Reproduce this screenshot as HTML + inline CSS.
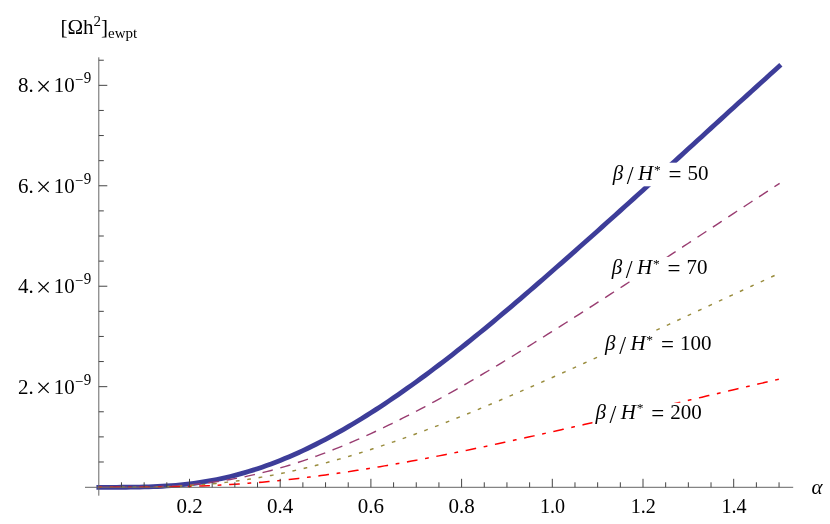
<!DOCTYPE html>
<html><head><meta charset="utf-8"><title>plot</title>
<style>
html,body{margin:0;padding:0;background:#fff;}
body{width:830px;height:524px;overflow:hidden;font-family:"Liberation Serif",serif;}
svg{display:block;will-change:transform;}
text{font-family:"Liberation Serif",serif;fill:#000;}
.it{font-style:italic;}
</style></head><body>
<svg width="830" height="524" viewBox="0 0 830 524">
<rect width="830" height="524" fill="#fff"/>

<g fill="none" stroke-linecap="square" stroke-linejoin="round">
<path d="M98.80,487.30 L103.33,487.30 L107.87,487.30 L112.41,487.30 L116.94,487.29 L121.47,487.27 L126.01,487.25 L130.55,487.21 L135.08,487.15 L139.62,487.08 L144.15,486.97 L148.69,486.84 L153.22,486.68 L157.75,486.48 L162.29,486.25 L166.82,485.97 L171.36,485.65 L175.89,485.28 L180.43,484.86 L184.97,484.39 L189.50,483.86 L194.03,483.29 L198.57,482.65 L203.11,481.95 L207.64,481.20 L212.18,480.38 L216.71,479.50 L221.25,478.56 L225.78,477.55 L230.31,476.48 L234.85,475.35 L239.38,474.15 L243.92,472.88 L248.45,471.55 L252.99,470.16 L257.52,468.70 L262.06,467.17 L266.59,465.58 L271.13,463.93 L275.67,462.21 L280.20,460.43 L284.74,458.59 L289.27,456.68 L293.81,454.72 L298.34,452.69 L302.88,450.61 L307.41,448.46 L311.94,446.26 L316.48,444.00 L321.01,441.69 L325.55,439.32 L330.08,436.89 L334.62,434.42 L339.16,431.89 L343.69,429.31 L348.23,426.67 L352.76,423.99 L357.30,421.26 L361.83,418.48 L366.37,415.66 L370.90,412.79 L375.44,409.88 L379.97,406.92 L384.50,403.92 L389.04,400.88 L393.58,397.80 L398.11,394.68 L402.65,391.52 L407.18,388.32 L411.71,385.09 L416.25,381.83 L420.78,378.52 L425.32,375.19 L429.86,371.82 L434.39,368.43 L438.93,365.00 L443.46,361.54 L448.00,358.05 L452.53,354.53 L457.07,350.96 L461.60,347.37 L466.14,343.75 L470.67,340.11 L475.20,336.44 L479.74,332.75 L484.27,329.04 L488.81,325.30 L493.35,321.54 L497.88,317.76 L502.42,313.96 L506.95,310.14 L511.49,306.31 L516.02,302.45 L520.55,298.58 L525.09,294.68 L529.62,290.78 L534.16,286.86 L538.69,282.92 L543.23,278.97 L547.76,275.00 L552.30,271.02 L556.84,267.06 L561.37,263.08 L565.90,259.09 L570.44,255.10 L574.98,251.09 L579.51,247.07 L584.04,243.05 L588.58,239.02 L593.12,234.98 L597.65,230.93 L602.19,226.88 L606.72,222.82 L611.25,218.76 L615.79,214.69 L620.32,210.61 L624.86,206.54 L629.39,202.45 L633.93,198.37 L638.46,194.28 L643.00,190.19 L647.53,186.06 L652.07,181.93 L656.60,177.80 L661.14,173.66 L665.67,169.53 L670.21,165.39 L674.75,161.25 L679.28,157.11 L683.81,152.97 L688.35,148.83 L692.88,144.69 L697.42,140.55 L701.96,136.41 L706.49,132.27 L711.02,128.13 L715.56,123.99 L720.10,119.86 L724.63,115.73 L729.16,111.60 L733.70,107.47 L738.23,103.34 L742.77,99.22 L747.30,95.10 L751.84,90.98 L756.37,86.87 L760.91,82.76 L765.44,78.66 L769.98,74.56 L774.51,70.46 L779.05,66.37" stroke="#3d3d99" stroke-width="4.8"/>
<path d="M98.80,487.30 L103.33,487.30 L107.87,487.30 L112.41,487.30 L116.94,487.29 L121.47,487.28 L126.01,487.26 L130.55,487.24 L135.08,487.19 L139.62,487.14 L144.15,487.06 L148.69,486.97 L153.22,486.85 L157.75,486.71 L162.29,486.54 L166.82,486.34 L171.36,486.11 L175.89,485.84 L180.43,485.54 L184.97,485.20 L189.50,484.82 L194.03,484.40 L198.57,483.95 L203.11,483.44 L207.64,482.90 L212.18,482.31 L216.71,481.68 L221.25,481.00 L225.78,480.27 L230.31,479.50 L234.85,478.68 L239.38,477.81 L243.92,476.90 L248.45,475.94 L252.99,474.94 L257.52,473.88 L262.06,472.78 L266.59,471.64 L271.13,470.45 L275.67,469.21 L280.20,467.92 L284.74,466.59 L289.27,465.22 L293.81,463.80 L298.34,462.34 L302.88,460.84 L307.41,459.29 L311.94,457.70 L316.48,456.08 L321.01,454.41 L325.55,452.70 L330.08,450.95 L334.62,449.16 L339.16,447.34 L343.69,445.48 L348.23,443.58 L352.76,441.65 L357.30,439.68 L361.83,437.67 L366.37,435.64 L370.90,433.57 L375.44,431.47 L379.97,429.33 L384.50,427.17 L389.04,424.98 L393.58,422.76 L398.11,420.51 L402.65,418.23 L407.18,415.92 L411.71,413.59 L416.25,411.24 L420.78,408.86 L425.32,406.45 L429.86,404.02 L434.39,401.57 L438.93,399.10 L443.46,396.61 L448.00,394.09 L452.53,391.55 L457.07,388.98 L461.60,386.39 L466.14,383.78 L470.67,381.16 L475.20,378.51 L479.74,375.85 L484.27,373.17 L488.81,370.48 L493.35,367.76 L497.88,365.04 L502.42,362.30 L506.95,359.54 L511.49,356.78 L516.02,354.00 L520.55,351.20 L525.09,348.40 L529.62,345.58 L534.16,342.75 L538.69,339.91 L543.23,337.06 L547.76,334.20 L552.30,331.33 L556.84,328.47 L561.37,325.61 L565.90,322.73 L570.44,319.85 L574.98,316.96 L579.51,314.06 L584.04,311.16 L588.58,308.25 L593.12,305.34 L597.65,302.42 L602.19,299.50 L606.72,296.57 L611.25,293.64 L615.79,290.71 L620.32,287.77 L624.86,284.83 L629.39,281.88 L633.93,278.94 L638.46,275.99 L643.00,273.04 L647.53,270.06 L652.07,267.09 L656.60,264.10 L661.14,261.12 L665.67,258.14 L670.21,255.15 L674.75,252.17 L679.28,249.18 L683.81,246.20 L688.35,243.21 L692.88,240.22 L697.42,237.24 L701.96,234.25 L706.49,231.27 L711.02,228.28 L715.56,225.30 L720.10,222.32 L724.63,219.34 L729.16,216.36 L733.70,213.38 L738.23,210.41 L742.77,207.44 L747.30,204.47 L751.84,201.50 L756.37,198.53 L760.91,195.57 L765.44,192.61 L769.98,189.65 L774.51,186.70 L779.05,183.75" stroke="#993d71" stroke-width="1.4" stroke-dasharray="9.2 9.2"/>
<path d="M98.80,487.30 L103.33,487.30 L107.87,487.30 L112.41,487.30 L116.94,487.29 L121.47,487.29 L126.01,487.27 L130.55,487.25 L135.08,487.23 L139.62,487.19 L144.15,487.13 L148.69,487.07 L153.22,486.98 L157.75,486.88 L162.29,486.76 L166.82,486.62 L171.36,486.46 L175.89,486.27 L180.43,486.06 L184.97,485.82 L189.50,485.55 L194.03,485.26 L198.57,484.94 L203.11,484.58 L207.64,484.20 L212.18,483.78 L216.71,483.34 L221.25,482.86 L225.78,482.35 L230.31,481.80 L234.85,481.23 L239.38,480.62 L243.92,479.98 L248.45,479.30 L252.99,478.59 L257.52,477.85 L262.06,477.07 L266.59,476.27 L271.13,475.43 L275.67,474.55 L280.20,473.65 L284.74,472.71 L289.27,471.75 L293.81,470.75 L298.34,469.72 L302.88,468.66 L307.41,467.57 L311.94,466.45 L316.48,465.30 L321.01,464.13 L325.55,462.92 L330.08,461.69 L334.62,460.43 L339.16,459.15 L343.69,457.84 L348.23,456.50 L352.76,455.14 L357.30,453.75 L361.83,452.34 L366.37,450.91 L370.90,449.45 L375.44,447.97 L379.97,446.47 L384.50,444.94 L389.04,443.40 L393.58,441.83 L398.11,440.25 L402.65,438.64 L407.18,437.02 L411.71,435.38 L416.25,433.72 L420.78,432.04 L425.32,430.35 L429.86,428.64 L434.39,426.91 L438.93,425.17 L443.46,423.41 L448.00,421.64 L452.53,419.85 L457.07,418.04 L461.60,416.22 L466.14,414.38 L470.67,412.53 L475.20,410.66 L479.74,408.79 L484.27,406.90 L488.81,405.00 L493.35,403.09 L497.88,401.17 L502.42,399.24 L506.95,397.30 L511.49,395.35 L516.02,393.39 L520.55,391.43 L525.09,389.45 L529.62,387.47 L534.16,385.47 L538.69,383.47 L543.23,381.47 L547.76,379.45 L552.30,377.43 L556.84,375.42 L561.37,373.40 L565.90,371.37 L570.44,369.34 L574.98,367.30 L579.51,365.26 L584.04,363.22 L588.58,361.17 L593.12,359.12 L597.65,357.06 L602.19,355.00 L606.72,352.94 L611.25,350.88 L615.79,348.81 L620.32,346.74 L624.86,344.67 L629.39,342.60 L633.93,340.52 L638.46,338.45 L643.00,336.37 L647.53,334.27 L652.07,332.17 L656.60,330.07 L661.14,327.97 L665.67,325.87 L670.21,323.77 L674.75,321.66 L679.28,319.56 L683.81,317.46 L688.35,315.35 L692.88,313.25 L697.42,311.15 L701.96,309.04 L706.49,306.94 L711.02,304.84 L715.56,302.74 L720.10,300.64 L724.63,298.54 L729.16,296.44 L733.70,294.34 L738.23,292.25 L742.77,290.15 L747.30,288.06 L751.84,285.97 L756.37,283.88 L760.91,281.79 L765.44,279.71 L769.98,277.63 L774.51,275.54 L779.05,273.47" stroke="#998c3d" stroke-width="1.45" stroke-dasharray="2.3 9.2"/>
<path d="M98.80,487.30 L103.33,487.30 L107.87,487.30 L112.41,487.30 L116.94,487.30 L121.47,487.29 L126.01,487.29 L130.55,487.28 L135.08,487.26 L139.62,487.24 L144.15,487.22 L148.69,487.18 L153.22,487.14 L157.75,487.09 L162.29,487.03 L166.82,486.96 L171.36,486.88 L175.89,486.78 L180.43,486.67 L184.97,486.55 L189.50,486.42 L194.03,486.27 L198.57,486.11 L203.11,485.93 L207.64,485.73 L212.18,485.52 L216.71,485.30 L221.25,485.05 L225.78,484.80 L230.31,484.52 L234.85,484.23 L239.38,483.92 L243.92,483.60 L248.45,483.25 L252.99,482.90 L257.52,482.52 L262.06,482.13 L266.59,481.72 L271.13,481.30 L275.67,480.86 L280.20,480.40 L284.74,479.92 L289.27,479.44 L293.81,478.93 L298.34,478.41 L302.88,477.87 L307.41,477.32 L311.94,476.76 L316.48,476.18 L321.01,475.58 L325.55,474.97 L330.08,474.35 L334.62,473.72 L339.16,473.07 L343.69,472.40 L348.23,471.73 L352.76,471.04 L357.30,470.34 L361.83,469.62 L366.37,468.90 L370.90,468.16 L375.44,467.41 L379.97,466.65 L384.50,465.88 L389.04,465.10 L393.58,464.31 L398.11,463.51 L402.65,462.70 L407.18,461.88 L411.71,461.05 L416.25,460.21 L420.78,459.36 L425.32,458.50 L429.86,457.64 L434.39,456.76 L438.93,455.88 L443.46,455.00 L448.00,454.10 L452.53,453.19 L457.07,452.28 L461.60,451.36 L466.14,450.43 L470.67,449.49 L475.20,448.55 L479.74,447.60 L484.27,446.65 L488.81,445.69 L493.35,444.72 L497.88,443.75 L502.42,442.77 L506.95,441.79 L511.49,440.81 L516.02,439.82 L520.55,438.82 L525.09,437.82 L529.62,436.82 L534.16,435.81 L538.69,434.80 L543.23,433.79 L547.76,432.77 L552.30,431.75 L556.84,430.73 L561.37,429.70 L565.90,428.68 L570.44,427.65 L574.98,426.62 L579.51,425.59 L584.04,424.56 L588.58,423.52 L593.12,422.49 L597.65,421.45 L602.19,420.41 L606.72,419.36 L611.25,418.32 L615.79,417.27 L620.32,416.23 L624.86,415.18 L629.39,414.13 L633.93,413.08 L638.46,412.03 L643.00,410.98 L647.53,409.92 L652.07,408.86 L656.60,407.80 L661.14,406.74 L665.67,405.67 L670.21,404.61 L674.75,403.55 L679.28,402.48 L683.81,401.42 L688.35,400.36 L692.88,399.29 L697.42,398.23 L701.96,397.17 L706.49,396.10 L711.02,395.04 L715.56,393.98 L720.10,392.92 L724.63,391.85 L729.16,390.79 L733.70,389.73 L738.23,388.67 L742.77,387.61 L747.30,386.56 L751.84,385.50 L756.37,384.44 L760.91,383.39 L765.44,382.33 L769.98,381.28 L774.51,380.23 L779.05,379.18" stroke="#ff0000" stroke-width="1.5" stroke-dasharray="2.3 9.2 9.2 9.2"/>
</g>
<rect x="609.8" y="162.7" width="100.0" height="23.6" fill="#fff"/>
<text x="612.8" y="179.9" font-size="21"><tspan class="it">β</tspan><tspan dx="3.6" dy="4.4" font-size="24.5">/</tspan><tspan dx="4.4" dy="-4.4" class="it">H</tspan><tspan dy="-6.2" dx="0.8" font-size="13.5">*</tspan><tspan dy="8.5" dx="7.8" font-size="23">=</tspan><tspan dx="6.0" dy="-2.3">50</tspan></text>
<rect x="608.8" y="256.9" width="100.0" height="23.6" fill="#fff"/>
<text x="611.8" y="273.7" font-size="21"><tspan class="it">β</tspan><tspan dx="3.6" dy="4.4" font-size="24.5">/</tspan><tspan dx="4.4" dy="-4.4" class="it">H</tspan><tspan dy="-6.2" dx="0.8" font-size="13.5">*</tspan><tspan dy="8.5" dx="7.8" font-size="23">=</tspan><tspan dx="6.0" dy="-2.3">70</tspan></text>
<rect x="602.1" y="332.7" width="110.5" height="23.6" fill="#fff"/>
<text x="605.1" y="349.9" font-size="21"><tspan class="it">β</tspan><tspan dx="3.6" dy="4.4" font-size="24.5">/</tspan><tspan dx="4.4" dy="-4.4" class="it">H</tspan><tspan dy="-6.2" dx="0.8" font-size="13.5">*</tspan><tspan dy="8.5" dx="7.8" font-size="23">=</tspan><tspan dx="6.0" dy="-2.3">100</tspan></text>
<rect x="592.5" y="402.8" width="110.5" height="23.6" fill="#fff"/>
<text x="595.5" y="418.6" font-size="21"><tspan class="it">β</tspan><tspan dx="3.6" dy="4.4" font-size="24.5">/</tspan><tspan dx="4.4" dy="-4.4" class="it">H</tspan><tspan dy="-6.2" dx="0.8" font-size="13.5">*</tspan><tspan dy="8.5" dx="7.8" font-size="23">=</tspan><tspan dx="6.0" dy="-2.3">200</tspan></text>
<g stroke="#666" stroke-width="1.00" fill="none">
<line x1="85" y1="487.30" x2="793.2" y2="487.30"/>
<line x1="98.80" y1="57.3" x2="98.80" y2="495.7"/>
</g>
<g stroke="#444" stroke-width="1" fill="none">
<line x1="121.47" y1="487.30" x2="121.47" y2="482.30"/>
<line x1="144.15" y1="487.30" x2="144.15" y2="482.30"/>
<line x1="166.82" y1="487.30" x2="166.82" y2="482.30"/>
<line x1="189.50" y1="487.30" x2="189.50" y2="478.80"/>
<line x1="212.18" y1="487.30" x2="212.18" y2="482.30"/>
<line x1="234.85" y1="487.30" x2="234.85" y2="482.30"/>
<line x1="257.53" y1="487.30" x2="257.53" y2="482.30"/>
<line x1="280.20" y1="487.30" x2="280.20" y2="478.80"/>
<line x1="302.88" y1="487.30" x2="302.88" y2="482.30"/>
<line x1="325.55" y1="487.30" x2="325.55" y2="482.30"/>
<line x1="348.23" y1="487.30" x2="348.23" y2="482.30"/>
<line x1="370.90" y1="487.30" x2="370.90" y2="478.80"/>
<line x1="393.58" y1="487.30" x2="393.58" y2="482.30"/>
<line x1="416.25" y1="487.30" x2="416.25" y2="482.30"/>
<line x1="438.93" y1="487.30" x2="438.93" y2="482.30"/>
<line x1="461.60" y1="487.30" x2="461.60" y2="478.80"/>
<line x1="484.28" y1="487.30" x2="484.28" y2="482.30"/>
<line x1="506.95" y1="487.30" x2="506.95" y2="482.30"/>
<line x1="529.62" y1="487.30" x2="529.62" y2="482.30"/>
<line x1="552.30" y1="487.30" x2="552.30" y2="478.80"/>
<line x1="574.98" y1="487.30" x2="574.98" y2="482.30"/>
<line x1="597.65" y1="487.30" x2="597.65" y2="482.30"/>
<line x1="620.33" y1="487.30" x2="620.33" y2="482.30"/>
<line x1="643.00" y1="487.30" x2="643.00" y2="478.80"/>
<line x1="665.67" y1="487.30" x2="665.67" y2="482.30"/>
<line x1="688.35" y1="487.30" x2="688.35" y2="482.30"/>
<line x1="711.02" y1="487.30" x2="711.02" y2="482.30"/>
<line x1="733.70" y1="487.30" x2="733.70" y2="478.80"/>
<line x1="756.38" y1="487.30" x2="756.38" y2="482.30"/>
<line x1="779.05" y1="487.30" x2="779.05" y2="482.30"/>
<line x1="98.80" y1="461.99" x2="103.80" y2="461.99"/>
<line x1="98.80" y1="436.88" x2="103.80" y2="436.88"/>
<line x1="98.80" y1="411.77" x2="103.80" y2="411.77"/>
<line x1="98.80" y1="386.66" x2="107.30" y2="386.66"/>
<line x1="98.80" y1="361.55" x2="103.80" y2="361.55"/>
<line x1="98.80" y1="336.44" x2="103.80" y2="336.44"/>
<line x1="98.80" y1="311.33" x2="103.80" y2="311.33"/>
<line x1="98.80" y1="286.22" x2="107.30" y2="286.22"/>
<line x1="98.80" y1="261.11" x2="103.80" y2="261.11"/>
<line x1="98.80" y1="236.00" x2="103.80" y2="236.00"/>
<line x1="98.80" y1="210.89" x2="103.80" y2="210.89"/>
<line x1="98.80" y1="185.78" x2="107.30" y2="185.78"/>
<line x1="98.80" y1="160.67" x2="103.80" y2="160.67"/>
<line x1="98.80" y1="135.56" x2="103.80" y2="135.56"/>
<line x1="98.80" y1="110.45" x2="103.80" y2="110.45"/>
<line x1="98.80" y1="85.34" x2="107.30" y2="85.34"/>
<line x1="98.80" y1="60.23" x2="103.80" y2="60.23"/>
</g>
<text transform="translate(189.5,513.05) scale(1.00,1.04)" font-size="21" text-anchor="middle">0.2</text>
<text transform="translate(280.2,513.05) scale(1.00,1.04)" font-size="21" text-anchor="middle">0.4</text>
<text transform="translate(370.9,513.05) scale(1.00,1.04)" font-size="21" text-anchor="middle">0.6</text>
<text transform="translate(461.6,513.05) scale(1.00,1.04)" font-size="21" text-anchor="middle">0.8</text>
<text transform="translate(552.6,513.05) scale(0.96,1.04)" font-size="21" text-anchor="middle">1.0</text>
<text transform="translate(643.3,513.05) scale(0.96,1.04)" font-size="21" text-anchor="middle">1.2</text>
<text transform="translate(734.0,513.05) scale(0.96,1.04)" font-size="21" text-anchor="middle">1.4</text>
<text transform="translate(18.0,393.7) scale(1,1.045)" font-size="21">2.<tspan x="35.7">10</tspan><tspan dy="-6.8" dx="0.2" font-size="15">−</tspan><tspan dy="-2.0" dx="0.4" font-size="15">9</tspan></text>
<path d="M38.45,382.72 L48.65,392.92 M38.45,392.92 L48.65,382.72" stroke="#000" stroke-width="1.15" fill="none"/>
<text transform="translate(18.0,293.2) scale(1,1.045)" font-size="21">4.<tspan x="35.7">10</tspan><tspan dy="-6.8" dx="0.2" font-size="15">−</tspan><tspan dy="-2.0" dx="0.4" font-size="15">9</tspan></text>
<path d="M38.45,282.24 L48.65,292.44 M38.45,292.44 L48.65,282.24" stroke="#000" stroke-width="1.15" fill="none"/>
<text transform="translate(18.0,192.8) scale(1,1.045)" font-size="21">6.<tspan x="35.7">10</tspan><tspan dy="-6.8" dx="0.2" font-size="15">−</tspan><tspan dy="-2.0" dx="0.4" font-size="15">9</tspan></text>
<path d="M38.45,181.76 L48.65,191.96 M38.45,191.96 L48.65,181.76" stroke="#000" stroke-width="1.15" fill="none"/>
<text transform="translate(18.0,92.3) scale(1,1.045)" font-size="21">8.<tspan x="35.7">10</tspan><tspan dy="-6.8" dx="0.2" font-size="15">−</tspan><tspan dy="-2.0" dx="0.4" font-size="15">9</tspan></text>
<path d="M38.45,81.28 L48.65,91.48 M38.45,91.48 L48.65,81.28" stroke="#000" stroke-width="1.15" fill="none"/>
<text x="60.5" y="33.9" font-size="21">[Ωh<tspan dy="-8" font-size="15">2</tspan><tspan dy="8">]</tspan><tspan dy="4" font-size="15">ewpt</tspan></text>
<text x="811.5" y="494" font-size="21" class="it">α</text>
</svg></body></html>
